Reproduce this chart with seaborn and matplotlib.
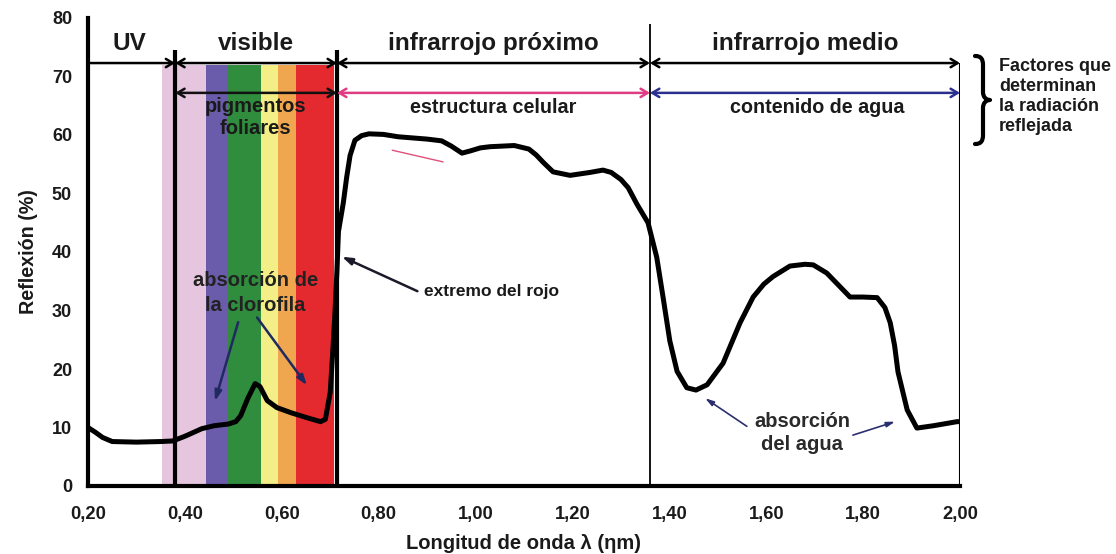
import matplotlib
matplotlib.use("Agg")
import matplotlib.pyplot as plt
from matplotlib.path import Path
from matplotlib.patches import PathPatch
import seaborn as sns
import numpy as np
import pandas as pd

# ---------------- data ----------------
wavelength = [0.200, 0.215, 0.230, 0.250, 0.300, 0.350, 0.375, 0.400, 0.435, 0.460,
              0.490, 0.505, 0.515, 0.530, 0.545, 0.555, 0.570, 0.590, 0.620, 0.655,
              0.680, 0.690, 0.700, 0.706, 0.710, 0.714, 0.717, 0.727, 0.734, 0.741,
              0.751, 0.765, 0.780, 0.810, 0.840, 0.900, 0.930, 0.950, 0.972, 0.990,
              1.010, 1.030, 1.080, 1.110, 1.125, 1.140, 1.160, 1.195, 1.236, 1.263,
              1.280, 1.300, 1.315, 1.333, 1.356, 1.374, 1.387, 1.401, 1.416, 1.436,
              1.455, 1.478, 1.511, 1.546, 1.573, 1.595, 1.614, 1.649, 1.680, 1.697,
              1.725, 1.773, 1.800, 1.829, 1.845, 1.856, 1.865, 1.872, 1.891, 1.911,
              1.945, 1.994, 2.000]
reflexion = [10.0, 9.2, 8.3, 7.6, 7.5, 7.6, 7.7, 8.5, 9.8, 10.3,
             10.6, 11.0, 12.0, 15.0, 17.5, 17.0, 14.6, 13.4, 12.5, 11.6,
             11.0, 11.4, 16.0, 24.0, 30.0, 37.0, 43.5, 48.4, 52.8, 56.5,
             59.1, 59.9, 60.2, 60.1, 59.7, 59.3, 59.0, 58.1, 56.9, 57.3,
             57.8, 58.0, 58.2, 57.6, 56.6, 55.3, 53.7, 53.1, 53.6, 54.0,
             53.6, 52.4, 51.0, 48.2, 45.0, 39.1, 32.3, 24.8, 19.6, 16.8,
             16.4, 17.3, 21.0, 27.9, 32.3, 34.5, 35.8, 37.6, 37.9, 37.8,
             36.4, 32.3, 32.3, 32.2, 30.5, 27.9, 24.0, 19.5, 13.0, 9.9,
             10.3, 11.0, 11.0]

band_edges = [0.353, 0.444, 0.487, 0.557, 0.592, 0.629, 0.708]
band_colors = ["#e6c6de", "#6a5cab", "#2f8d3d", "#f3ee86", "#f0a54f", "#e4292f"]

region_bounds = [0.20, 0.38, 0.714, 1.36, 2.00]
region_names = ["UV", "visible", "infrarrojo próximo", "infrarrojo medio"]

factor_bounds = [0.38, 0.714, 1.36, 2.00]
factor_names = ["pigmentos\nfoliares", "estructura celular", "contenido de agua"]
factor_colors = ["#111111", "#e03c84", "#2b2f8f"]

x_ticks = [0.20, 0.40, 0.60, 0.80, 1.00, 1.20, 1.40, 1.60, 1.80, 2.00]
x_ticklabels = ["0,20", "0,40", "0,60", "0,80", "1,00", "1,20", "1,40", "1,60", "1,80", "2,00"]
y_ticks = [0, 10, 20, 30, 40, 50, 60, 70, 80]

# ---------------- style ----------------
sns.set_style("white")
plt.rcParams["font.family"] = ["Liberation Sans", "DejaVu Sans"]
plt.rcParams["font.weight"] = "bold"

W, H = 1116, 554
fig = plt.figure(figsize=(W / 100, H / 100), dpi=100)
ax = fig.add_axes([88 / W, 68 / H, 872 / W, 468 / H])

TXT = "#1a1a1a"

# colour bands of the visible spectrum
for i, c in enumerate(band_colors):
    ax.fill_between([band_edges[i], band_edges[i + 1]], 0, 72, color=c, lw=0, zorder=1)

# region boundary lines
ax.vlines(region_bounds[1], 0, 74.5, color="black", lw=3.0, zorder=3)
ax.vlines(region_bounds[2], 0, 74.5, color="black", lw=3.0, zorder=3)
ax.vlines(region_bounds[3], 0, 79, color="black", lw=1.3, zorder=3)
ax.vlines(region_bounds[4], 0, 72.3, color="black", lw=1.5, zorder=3)

# reflectance curve
df = pd.DataFrame({"x": wavelength, "y": reflexion})
sns.lineplot(data=df, x="x", y="y", color="black", lw=3.6, ax=ax, zorder=5,
             estimator=None, sort=False)
ax.lines[-1].set_solid_joinstyle("round")
ax.lines[-1].set_solid_capstyle("round")

# stray pink stroke from the original figure
ax.plot([0.828, 0.933], [57.4, 55.4], color="#e0507a", lw=1.0, zorder=4)

# top arrows (regions)
arr_kw = dict(arrowstyle="<->,head_length=0.5,head_width=0.3", lw=1.8, shrinkA=0, shrinkB=0)
ax.annotate("", xy=(region_bounds[1], 72.3), xytext=(region_bounds[0], 72.3),
            arrowprops=dict(arrowstyle="->,head_length=0.5,head_width=0.3", lw=1.8,
                            color="black", shrinkA=0, shrinkB=0), zorder=6)
for i in range(1, 4):
    ax.annotate("", xy=(region_bounds[i + 1], 72.3), xytext=(region_bounds[i], 72.3),
                arrowprops=dict(color="black", **arr_kw), zorder=6)
for i, name in enumerate(region_names):
    ax.text((region_bounds[i] + region_bounds[i + 1]) / 2 + (0.0 if i else -0.005), 75.7, name,
            ha="center", va="center", fontsize=17.5, fontweight="bold", color=TXT)

# second row arrows (factors)
for i in range(3):
    ax.annotate("", xy=(factor_bounds[i + 1], 67.2), xytext=(factor_bounds[i], 67.2),
                arrowprops=dict(color=factor_colors[i], **arr_kw), zorder=6)
ax.text(0.545, 63.0, factor_names[0], ha="center", va="center", fontsize=14.5,
        fontweight="bold", color=TXT, linespacing=1.25, zorder=7)
ax.text(1.036, 64.7, factor_names[1], ha="center", va="center", fontsize=14.2,
        fontweight="bold", color=TXT, zorder=7)
ax.text(1.705, 64.7, factor_names[2], ha="center", va="center", fontsize=14.2,
        fontweight="bold", color=TXT, zorder=7)

# annotations
ax.text(0.545, 33.0, "absorción de\nla clorofila", ha="center", va="center", fontsize=14.5,
        fontweight="bold", color="#222222", linespacing=1.35, zorder=7)
nav = "#1f2a60"
ax.annotate("", xy=(0.462, 14.5), xytext=(0.51, 28.0),
            arrowprops=dict(arrowstyle="-|>,head_length=0.6,head_width=0.2", lw=1.8,
                            color=nav, shrinkA=0, shrinkB=0), zorder=7)
ax.annotate("", xy=(0.652, 17.2), xytext=(0.549, 28.8),
            arrowprops=dict(arrowstyle="-|>,head_length=0.6,head_width=0.2", lw=1.8,
                            color=nav, shrinkA=0, shrinkB=0), zorder=7)

ax.text(0.893, 33.2, "extremo del rojo", ha="left", va="center", fontsize=12.5,
        fontweight="bold", color=TXT, zorder=7)
ax.annotate("", xy=(0.724, 39.2), xytext=(0.88, 33.3),
            arrowprops=dict(arrowstyle="-|>,head_length=0.6,head_width=0.2", lw=1.8,
                            color="#1a1a2a", shrinkA=0, shrinkB=0), zorder=7)

ax.text(1.674, 9.0, "absorción\ndel agua", ha="center", va="center", fontsize=14.5,
        fontweight="bold", color="#2a2a2a", linespacing=1.25, zorder=7)
ax.annotate("", xy=(1.474, 15.0), xytext=(1.56, 10.2),
            arrowprops=dict(arrowstyle="-|>,head_length=0.5,head_width=0.15", lw=1.2,
                            color="#2b2f6f", shrinkA=0, shrinkB=0), zorder=7)
ax.annotate("", xy=(1.866, 11.0), xytext=(1.779, 8.7),
            arrowprops=dict(arrowstyle="-|>,head_length=0.5,head_width=0.15", lw=1.2,
                            color="#2b2f6f", shrinkA=0, shrinkB=0), zorder=7)

# right-side curly brace (drawn as a path in figure pixels)
def fp(x, y):
    return (x / W, 1 - y / H)

brace_verts = [fp(975, 56), fp(981, 56), fp(983, 59), fp(983, 65),
               fp(983, 92),
               fp(983, 97), fp(986, 100), fp(990, 100),
               fp(986, 100), fp(983, 103), fp(983, 108),
               fp(983, 135),
               fp(983, 141), fp(981, 144), fp(975, 144)]
brace_codes = [Path.MOVETO, Path.CURVE4, Path.CURVE4, Path.CURVE4,
               Path.LINETO,
               Path.CURVE4, Path.CURVE4, Path.CURVE4,
               Path.CURVE4, Path.CURVE4, Path.CURVE4,
               Path.LINETO,
               Path.CURVE4, Path.CURVE4, Path.CURVE4]
fig.add_artist(PathPatch(Path(brace_verts, brace_codes), transform=fig.transFigure,
                         fill=False, lw=3.0, edgecolor="black", capstyle="round",
                         joinstyle="round"))

fig.text(999 / W, 1 - 58 / H, "Factores que\ndeterminan\nla radiación\nreflejada",
         ha="left", va="top", fontsize=13, fontweight="bold", color=TXT, linespacing=1.22)

# axes
ax.set_xlim(0.20, 2.00)
ax.set_ylim(0, 80)
ax.set_xticks(x_ticks)
ax.set_xticklabels(x_ticklabels)
ax.set_yticks(y_ticks)
for s in ["top", "right"]:
    ax.spines[s].set_visible(False)
for s in ["left", "bottom"]:
    ax.spines[s].set_linewidth(3.0)
    ax.spines[s].set_color("black")
    ax.spines[s].set_zorder(8)
ax.tick_params(axis="x", direction="inout", length=9, width=2.2, colors="black",
               labelsize=13.2, pad=10)
ax.tick_params(axis="y", direction="inout", length=9, width=2.2, colors="black",
               labelsize=13, pad=7)
for lab in ax.get_xticklabels() + ax.get_yticklabels():
    lab.set_fontweight("bold")
    lab.set_color(TXT)
ax.set_xlabel("Longitud de onda λ (ηm)", fontsize=14.5, fontweight="bold", color=TXT, labelpad=8)
ax.set_ylabel("Reflexión (%)", fontsize=14.2, fontweight="bold", color=TXT, labelpad=10)

fig.savefig("out.png", dpi=100)
